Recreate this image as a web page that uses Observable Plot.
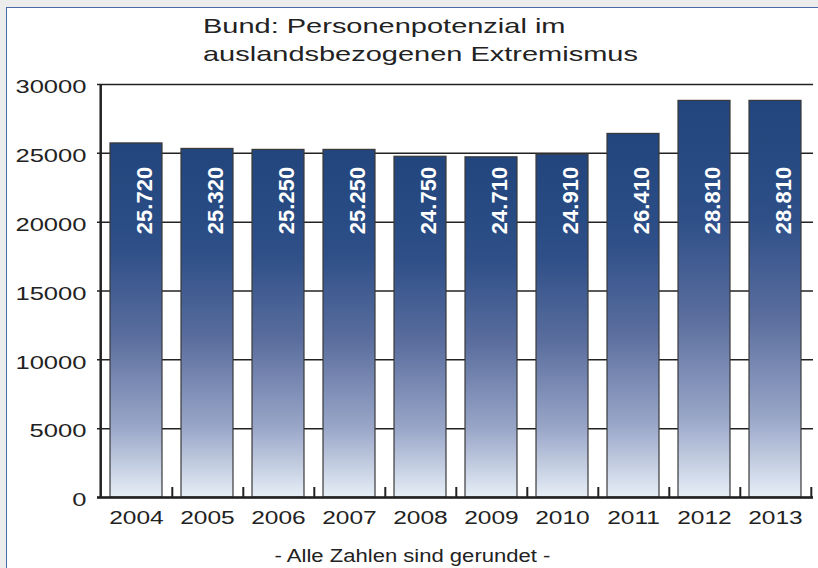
<!DOCTYPE html>
<html>
<head>
<meta charset="utf-8">
<script src="https://cdn.jsdelivr.net/npm/d3@7"></script>
<script src="https://cdn.jsdelivr.net/npm/@observablehq/plot@0.6"></script>
<style>
  html, body { margin: 0; padding: 0; }
  body { width: 818px; height: 568px; position: relative; overflow: hidden; background: #ececec; font-family: "Liberation Sans", Arial, sans-serif; }
  #panel { position: absolute; left: 6px; top: 7px; right: 0; bottom: 0; background: #fff; border-left: 1.5px solid #4a6aa5; border-top: 1.5px solid #4a6aa5; }
  #title { position: absolute; left: 203px; top: 12px; font-size: 21px; line-height: 28px; color: #222; white-space: nowrap; transform: scaleX(1.38); transform-origin: left center; }
  #chart { position: absolute; left: 0; top: 64px; }
  #caption { position: absolute; left: 0; width: 825px; top: 546px; text-align: center; font-size: 17.5px; color: #222; white-space: nowrap; transform: scaleX(1.26); transform-origin: center; }
</style>
</head>
<body>
<div id="panel"></div>
<div id="title">Bund: Personenpotenzial im<br>auslandsbezogenen Extremismus</div>
<div id="chart"></div>
<div id="caption">- Alle Zahlen sind gerundet -</div>
<script>
const years = ["2004", "2005", "2006", "2007", "2008", "2009", "2010", "2011", "2012", "2013"];
const values = [25720, 25320, 25250, 25250, 24750, 24710, 24910, 26410, 28810, 28810];
const yTicks = [0, 5000, 10000, 15000, 20000, 25000, 30000];

const data = years.map((year, i) => ({year, value: values[i]}));
const deFormat = d3.formatLocale({decimal: ",", thousands: ".", grouping: [3], currency: ["", " €"]}).format(",d");

const W = 818, H = 473, ML = 97, MR = 5, MT = 20, MB = 40;
const half = (W - ML - MR) / years.length / 2;
const tickLen = 30000 * 10 / (H - MT - MB);

const plot = Plot.plot({
  width: W,
  height: H,
  marginLeft: ML,
  marginRight: MR,
  marginTop: MT,
  marginBottom: MB,
  style: {background: "transparent", color: "#222", fontSize: "18px", fontFamily: "'Liberation Sans', Arial, sans-serif"},
  x: {domain: years, paddingInner: 0.27, paddingOuter: 0.135, tickSize: 0, tickPadding: 14, label: null},
  y: {domain: [0, 30000], ticks: yTicks, tickSize: 0, tickPadding: 11, tickFormat: d => String(d), label: null},
  marks: [
    Plot.ruleY(yTicks, {stroke: "#222", strokeWidth: 1.5}),
    Plot.barY(data, {x: "year", y: "value", fill: "url(#barGrad)", stroke: "#3a3a3a", strokeWidth: 1.2}),
    Plot.text(data, {x: "year", text: d => deFormat(d.value), rotate: -90, frameAnchor: "top", dy: 116, fill: "white", fontSize: 22, fontWeight: "bold"}),
    Plot.ruleY([0], {stroke: "#222", strokeWidth: 2.5}),
    Plot.ruleX([years[0]], {dx: -half, y1: 0, y2: 30000, stroke: "#222", strokeWidth: 2.5}),
    Plot.ruleX(years, {dx: half, y1: 0, y2: tickLen, stroke: "#222", strokeWidth: 2})
  ]
});

// gradient fill for the bars
const ns = "http://www.w3.org/2000/svg";
const defs = document.createElementNS(ns, "defs");
const grad = document.createElementNS(ns, "linearGradient");
grad.setAttribute("id", "barGrad");
grad.setAttribute("x1", "0"); grad.setAttribute("y1", "0");
grad.setAttribute("x2", "0"); grad.setAttribute("y2", "1");
[[0, "#21457c"], [0.3, "#2e4f88"], [0.55, "#5b6e9e"], [0.8, "#99a6c8"], [1, "#e6eef6"]].forEach(([o, c]) => {
  const s = document.createElementNS(ns, "stop");
  s.setAttribute("offset", o);
  s.setAttribute("stop-color", c);
  grad.appendChild(s);
});
defs.appendChild(grad);
plot.insertBefore(defs, plot.firstChild);

document.getElementById("chart").appendChild(plot);

// widen axis tick labels like the reference (stretch glyphs horizontally)
function stretch(sel, k, dy) {
  plot.querySelectorAll(sel).forEach(t => {
    const len = t.getComputedTextLength();
    t.setAttribute("textLength", (len * k).toFixed(1));
    t.setAttribute("lengthAdjust", "spacingAndGlyphs");
    if (dy) {
      const tr = t.getAttribute("transform") || "";
      t.setAttribute("transform", (tr + " translate(0," + dy + ")").trim());
    }
  });
}
stretch('[aria-label^="x-axis"] text', 1.36, 0);
stretch('[aria-label^="y-axis"] text', 1.42, 3);
</script>
</body>
</html>
